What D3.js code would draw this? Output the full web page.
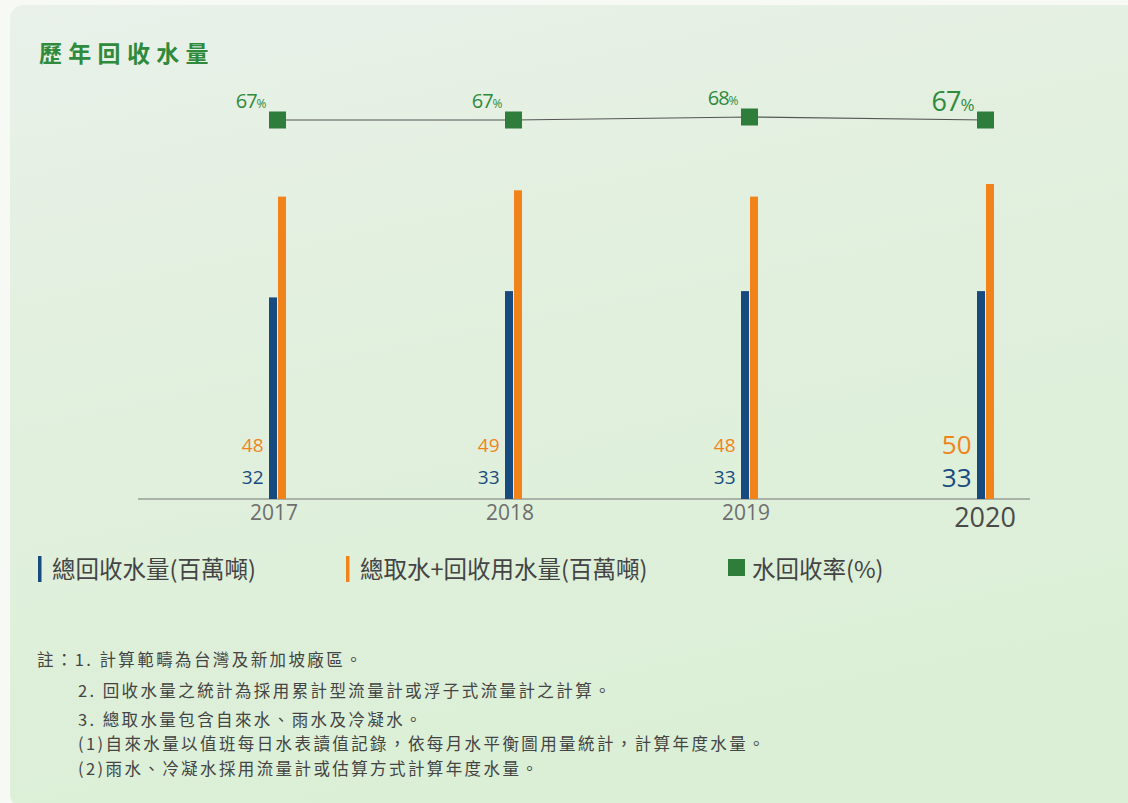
<!DOCTYPE html>
<html>
<head>
<meta charset="utf-8">
<title>歷年回收水量</title>
<style>
  body { margin: 0; background: #f7f9f5; }
  svg { display: block; }
  .cjk { font-family: "Noto Sans CJK TC", "Noto Sans", sans-serif; }
  .num { font-family: "Open Sans", "Noto Sans", sans-serif; }
</style>
</head>
<body>
<div id="chart"></div>
<script src="https://d3js.org/d3.v7.min.js"></script>
<script>
// data
var years = ["2017", "2018", "2019", "2020"];
var recycled = [32, 33, 33, 33];       // 總回收水量(百萬噸)
var intakePlus = [48, 49, 48, 50];     // 總取水+回收用水量(百萬噸)
var recycleRate = [67, 67, 68, 67];    // 水回收率(%)

var legendItems = ["總回收水量(百萬噸)", "總取水+回收用水量(百萬噸)", "水回收率(%)"];
var notes = [
  "註：1. 計算範疇為台灣及新加坡廠區。",
  "2. 回收水量之統計為採用累計型流量計或浮子式流量計之計算。",
  "3. 總取水量包含自來水、雨水及冷凝水。",
  "(1)自來水量以值班每日水表讀值記錄，依每月水平衡圖用量統計，計算年度水量。",
  "(2)雨水、冷凝水採用流量計或估算方式計算年度水量。"
];

var width = 1128, height = 803;
var blue = "#174a7f", orange = "#f0841b", green = "#2e7d3b";

var svg = d3.select("#chart").append("svg")
    .attr("width", width).attr("height", height);

// panel background
var defs = svg.append("defs");
var grad = defs.append("linearGradient").attr("id", "bg")
    .attr("x1", 0).attr("y1", 0).attr("x2", 0.3).attr("y2", 1);
grad.append("stop").attr("offset", "0%").attr("stop-color", "#e9f1ea");
grad.append("stop").attr("offset", "35%").attr("stop-color", "#e3f0e0");
grad.append("stop").attr("offset", "100%").attr("stop-color", "#dbefd6");
svg.append("rect").attr("x", 10).attr("y", 5).attr("width", width).attr("height", height)
    .attr("rx", 14).attr("fill", "url(#bg)");

// title
svg.append("text").attr("class", "cjk")
    .attr("x", 39).attr("y", 62)
    .attr("fill", "#2f8a3c").attr("font-size", 23).attr("font-weight", 700)
    .attr("letter-spacing", 6.3)
    .text("歷年回收水量");

var baseY = 499;
var x = d3.scalePoint().domain(years).range([277.5, 985.5]);
var y = d3.scaleLinear().domain([0, 50]).range([baseY, baseY - 315]);
var yRate = d3.scaleLinear().domain([60, 70]).range([141, 111]);

var barW = 8;

// axis
var axis = svg.append("g").attr("transform", "translate(0," + baseY + ")")
    .call(d3.axisBottom(x).tickSize(0).tickPadding(6));
axis.select(".domain").remove();
axis.append("line").attr("x1", 138).attr("x2", 1030)
    .attr("stroke", "#777").attr("stroke-width", 1.2);
axis.selectAll(".tick text")
    .attr("class", "num")
    .attr("fill", function (d) { return d === "2020" ? "#4a4a4a" : "#6e6e6e"; })
    .attr("font-size", function (d) { return d === "2020" ? 27 : 21; })
    .attr("dx", function (d) { return d === "2020" ? -1 : -4; })
    .attr("dy", function (d) { return d === "2020" ? "0.8em" : "0.72em"; });

// bars
svg.append("g").selectAll("rect").data(recycled).join("rect")
    .attr("x", function (d, i) { return x(years[i]) - barW - 0.5; })
    .attr("y", function (d) { return y(d); })
    .attr("width", barW)
    .attr("height", function (d) { return baseY - y(d); })
    .attr("fill", blue);

svg.append("g").selectAll("rect").data(intakePlus).join("rect")
    .attr("x", function (d, i) { return x(years[i]) + 0.5; })
    .attr("y", function (d) { return y(d); })
    .attr("width", barW)
    .attr("height", function (d) { return baseY - y(d); })
    .attr("fill", orange);

// bar value labels
function big(i) { return years[i] === "2020"; }
svg.append("g").selectAll("text").data(intakePlus).join("text")
    .attr("class", "num")
    .attr("x", function (d, i) { return x(years[i]) - 14; })
    .attr("y", function (d, i) { return big(i) ? 454 : 452; })
    .attr("text-anchor", "end")
    .attr("font-size", function (d, i) { return big(i) ? 26 : 19; })
    .attr("fill", orange)
    .text(function (d) { return d; });

svg.append("g").selectAll("text").data(recycled).join("text")
    .attr("class", "num")
    .attr("x", function (d, i) { return x(years[i]) - 14; })
    .attr("y", function (d, i) { return big(i) ? 487 : 484; })
    .attr("text-anchor", "end")
    .attr("font-size", function (d, i) { return big(i) ? 26 : 19; })
    .attr("fill", blue)
    .text(function (d) { return d; });

// recycle rate line
var line = d3.line()
    .x(function (d, i) { return x(years[i]); })
    .y(function (d) { return yRate(d); });
svg.append("path").datum(recycleRate)
    .attr("d", line).attr("fill", "none")
    .attr("stroke", "#555").attr("stroke-width", 1.2);

var ms = 17;
svg.append("g").selectAll("rect").data(recycleRate).join("rect")
    .attr("x", function (d, i) { return x(years[i]) - ms / 2; })
    .attr("y", function (d) { return yRate(d) - ms / 2; })
    .attr("width", ms).attr("height", ms)
    .attr("fill", green);

var rl = svg.append("g").selectAll("text").data(recycleRate).join("text")
    .attr("class", "num")
    .attr("x", function (d, i) { return x(years[i]) - 12; })
    .attr("y", function (d, i) { return yRate(d) - (big(i) ? 9 : 12); })
    .attr("text-anchor", "end")
    .attr("fill", "#2f8a3c")
    .attr("letter-spacing", -1);
rl.append("tspan")
    .attr("font-size", function (d, i) { return big(i) ? 27 : 20; })
    .text(function (d) { return d; });
rl.append("tspan")
    .attr("font-size", function (d, i) { return big(i) ? 17 : 12; })
    .text("%");

// legend
var lg = svg.append("g").attr("class", "cjk");
lg.append("rect").attr("x", 38).attr("y", 556).attr("width", 3.5).attr("height", 26).attr("fill", blue);
lg.append("rect").attr("x", 346).attr("y", 556).attr("width", 3.5).attr("height", 26).attr("fill", orange);
lg.append("rect").attr("x", 728).attr("y", 559).attr("width", 17).attr("height", 17).attr("fill", green);
var legendX = [52, 360, 752];
lg.selectAll("text").data(legendItems).join("text")
    .attr("x", function (d, i) { return legendX[i]; })
    .attr("y", 578)
    .attr("font-size", 23.5)
    .attr("fill", "#444")
    .text(function (d) { return d; });

// notes
var noteX = [37, 78, 78, 78, 78];
var noteY = [666, 697, 726, 750, 775];
svg.append("g").attr("class", "cjk").selectAll("text").data(notes).join("text")
    .attr("x", function (d, i) { return noteX[i]; })
    .attr("y", function (d, i) { return noteY[i]; })
    .attr("font-size", 16.5)
    .attr("letter-spacing", 2.4)
    .attr("fill", "#444")
    .text(function (d) { return d; });
</script>
</body>
</html>
